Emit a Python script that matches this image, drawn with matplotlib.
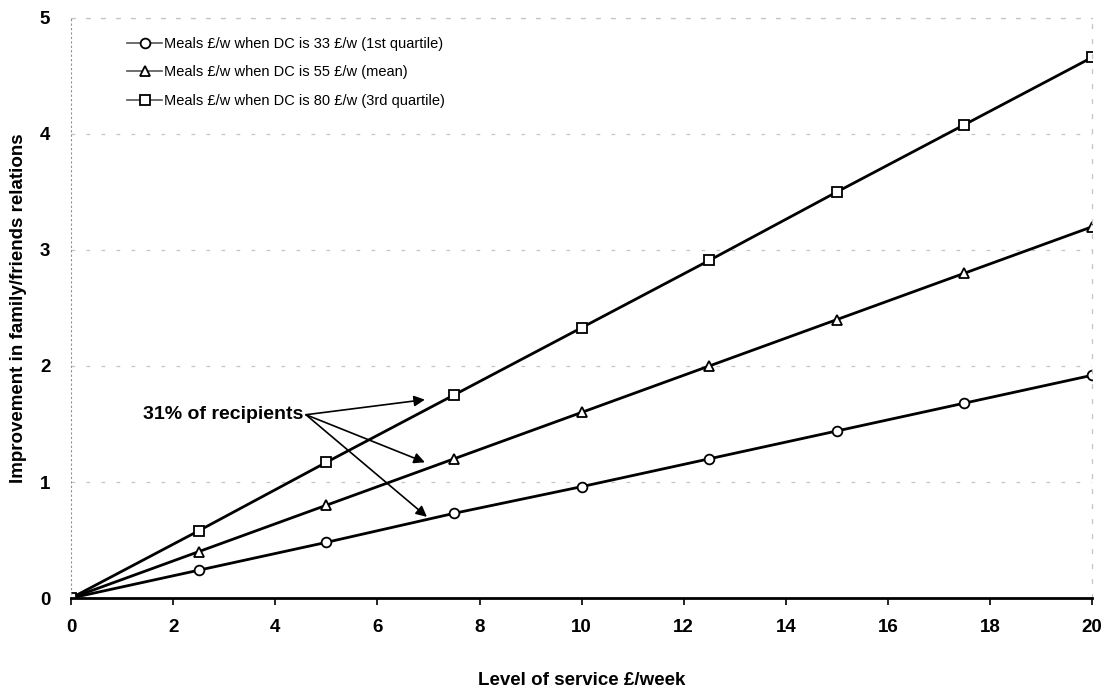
import matplotlib
matplotlib.use("Agg")
import matplotlib.pyplot as plt

plt.rcParams['font.family'] = ['Liberation Sans', 'DejaVu Sans']

# Level of service (£/week)
service = [0, 2.5, 5, 7.5, 10, 12.5, 15, 17.5, 20]

# Improvement in family/friends relations for each day-care level
dc33 = [0, 0.24, 0.48, 0.73, 0.96, 1.20, 1.44, 1.68, 1.92]
dc55 = [0, 0.40, 0.80, 1.20, 1.60, 2.00, 2.40, 2.80, 3.20]
dc80 = [0, 0.58, 1.17, 1.75, 2.33, 2.91, 3.50, 4.08, 4.66]

labels = [
    "Meals £/w when DC is 33 £/w (1st quartile)",
    "Meals £/w when DC is 55 £/w (mean)",
    "Meals £/w when DC is 80 £/w (3rd quartile)",
]
x_ticks = [0, 2, 4, 6, 8, 10, 12, 14, 16, 18, 20]
y_ticks = [0, 1, 2, 3, 4, 5]

fig = plt.figure(figsize=(11.11, 6.89), dpi=100)
ax = fig.add_axes([0.064, 0.132, 0.919, 0.842])

style = dict(color="black", lw=2.0, markersize=7, markerfacecolor="white",
             markeredgecolor="black", markeredgewidth=1.3)
ax.plot(service, dc33, marker="o", label=labels[0], **style)
ax.plot(service, dc55, marker="^", label=labels[1], **style)
ax.plot(service, dc80, marker="s", label=labels[2], **style)

ax.set_xlim(0, 20)
ax.set_ylim(0, 5)
ax.set_xticks(x_ticks)
ax.set_yticks(y_ticks)
ax.tick_params(axis="both", labelsize=13.5, length=5, width=1.2)
for t in ax.get_xticklabels() + ax.get_yticklabels():
    t.set_fontweight("bold")
ax.tick_params(axis="y", length=0, pad=15)
ax.tick_params(axis="x", pad=10)

ax.yaxis.grid(True, linestyle=(0, (3, 9)), color="#c4c4c4", lw=0.9)
for side in ("top", "right"):
    ax.spines[side].set_linestyle((0, (3, 9)))
    ax.spines[side].set_color("#c4c4c4")
    ax.spines[side].set_linewidth(0.9)
ax.spines["left"].set_linestyle((0, (1, 3)))
ax.spines["left"].set_color("#909090")
ax.spines["bottom"].set_linewidth(2.0)

ax.set_xlabel("Level of service £/week", fontsize=13.5, fontweight="bold",
              labelpad=26)
ax.set_ylabel("Improvement in family/friends relations", fontsize=13.5,
              fontweight="bold", labelpad=9)

leg = ax.legend(loc="upper left", bbox_to_anchor=(0.045, 0.985), frameon=False,
                fontsize=10.5, handlelength=2.4, handletextpad=0.1,
                labelspacing=1.0, borderpad=0.2)
for h in leg.legend_handles:
    h.set_linewidth(1.2)
    h.set_color("#555555")
    h.set_markeredgecolor("black")
    h.set_markersize(7)

ax.text(1.4, 1.58, "31% of recipients", fontsize=14, fontweight="bold",
        ha="left", va="center")
start = (4.6, 1.58)
for tip in [(6.93, 1.71), (6.93, 1.17), (6.97, 0.70)]:
    ax.annotate("", xy=tip, xytext=start,
                arrowprops=dict(arrowstyle="-|>", color="black", lw=1.2,
                                mutation_scale=16, shrinkA=0, shrinkB=0))

fig.savefig("out.png", dpi=100)
